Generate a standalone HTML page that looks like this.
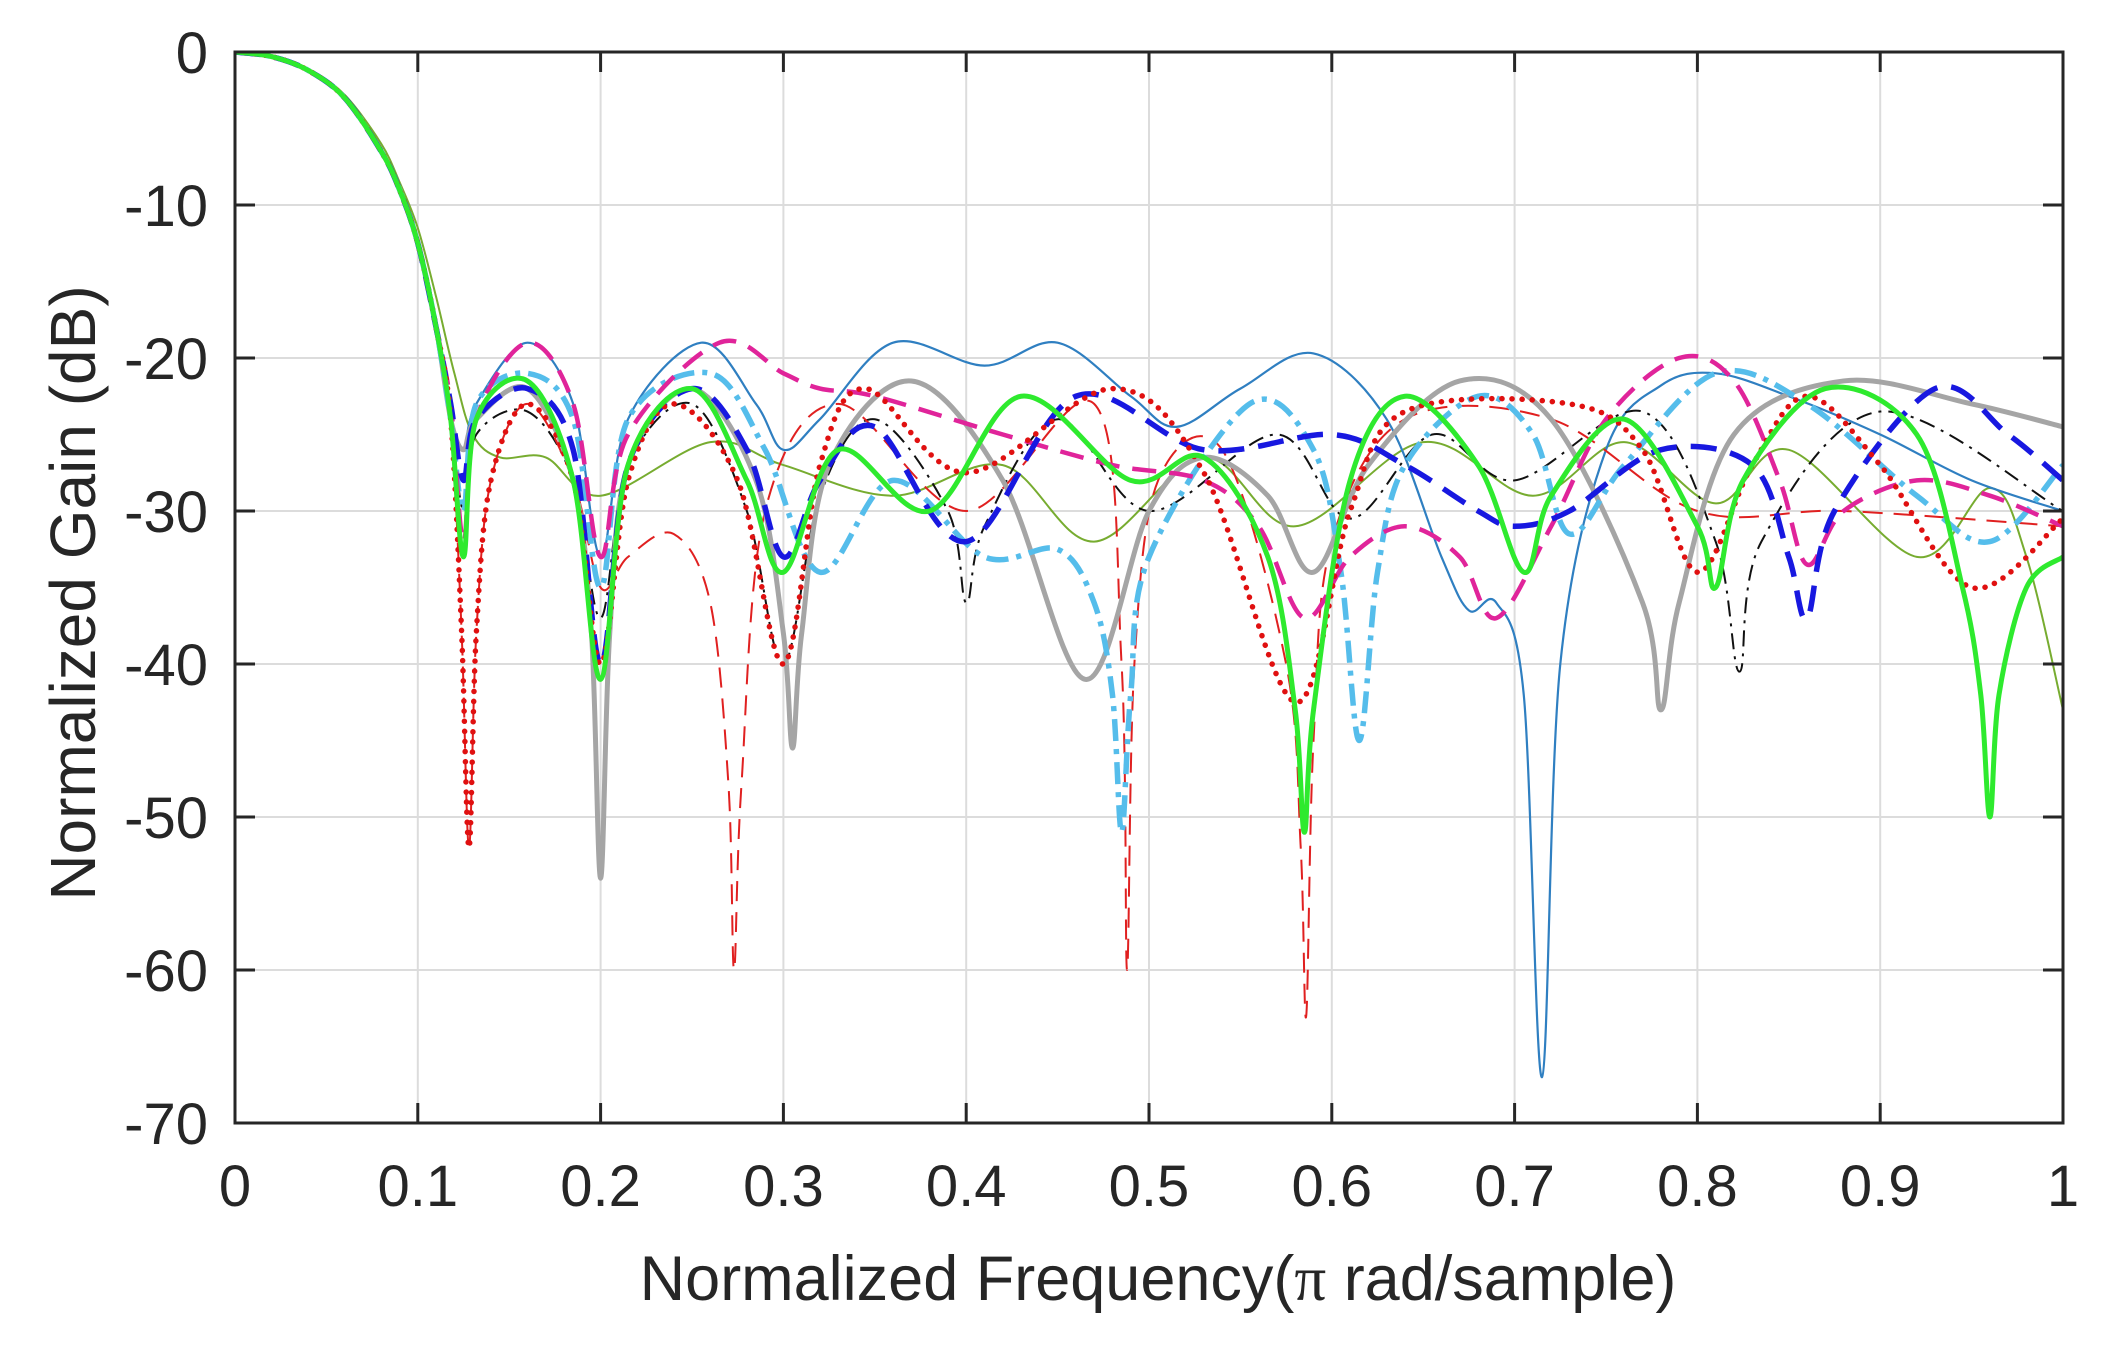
<!DOCTYPE html>
<html><head><meta charset="utf-8"><style>
html,body{margin:0;padding:0;background:#fff;}
svg{display:block;font-family:"Liberation Sans",Arial,sans-serif;}
</style></head><body>
<svg id="chart" width="2117" height="1346" viewBox="0 0 2117 1346" xmlns="http://www.w3.org/2000/svg">
<defs><clipPath id="clip"><rect x="235" y="52" width="1828" height="1071"/></clipPath></defs>
<g id="grid"></g>
<g id="series" clip-path="url(#clip)"></g>
<rect x="235" y="52" width="1828" height="1071" fill="none" stroke="#262626" stroke-width="3"/>
<g id="ticks"></g>
<text x="1158" y="1300" font-size="63" text-anchor="middle" fill="#262626">Normalized Frequency(<tspan font-family="Liberation Serif,serif">π</tspan> rad/sample)</text>
<text transform="translate(95,593) rotate(-90)" font-size="64" text-anchor="middle" fill="#262626">Normalized Gain (dB)</text>
</svg>
<script>
const xTicks=[0,0.1,0.2,0.3,0.4,0.5,0.6,0.7,0.8,0.9,1];
const xTickLabels=["0","0.1","0.2","0.3","0.4","0.5","0.6","0.7","0.8","0.9","1"];
const yTicks=[0,-10,-20,-30,-40,-50,-60,-70];
const yTickLabels=["0","-10","-20","-30","-40","-50","-60","-70"];
const mainX=[0,0.02,0.04,0.06,0.08,0.09,0.10,0.11];
const mainY=[0,-0.3,-1.2,-3,-6.5,-9,-12.5,-18];
const s1x=[0.118,0.125,0.132,0.16,0.185,0.2,0.215,0.255,0.285,0.30,0.32,0.36,0.41,0.45,0.49,0.515,0.55,0.59,0.63,0.66,0.675,0.69,0.705,0.715,0.725,0.75,0.78,0.81,0.85,0.9,0.95,1];
const s1y=[-24,-26,-23,-19,-23,-33,-24,-19,-23,-26,-24,-19,-20.5,-19,-22.5,-24.5,-22,-19.7,-24,-33,-36.5,-36,-42,-67,-40,-26,-21.8,-21,-22.5,-25,-28,-30];
const s2x=[0.118,0.125,0.132,0.16,0.185,0.2,0.215,0.265,0.3,0.32,0.35,0.42,0.48,0.53,0.56,0.585,0.61,0.64,0.67,0.69,0.72,0.75,0.79,0.82,0.845,0.86,0.88,0.92,0.96,1];
const s2y=[-23,-32,-24,-19,-23,-33,-25,-19,-21,-22,-22.5,-25,-27,-28,-31,-37,-33,-31,-33,-37,-31,-24,-20,-21.5,-28,-33.5,-30,-28,-29,-31];
const s3x=[0.118,0.125,0.132,0.16,0.185,0.2,0.215,0.26,0.29,0.32,0.36,0.41,0.45,0.47,0.48,0.485,0.49,0.5,0.555,0.59,0.605,0.615,0.625,0.64,0.68,0.71,0.73,0.76,0.81,0.86,0.92,0.96,1];
const s3y=[-24,-30,-23,-21,-24,-35,-24,-21,-26,-34,-28,-33,-32.5,-36,-42,-51,-42,-33,-23,-26,-34,-45,-34,-27,-22.5,-25,-31.5,-27,-21,-23,-29,-32,-27];
const s4x=[0.118,0.125,0.132,0.16,0.185,0.2,0.215,0.25,0.28,0.3,0.32,0.35,0.4,0.46,0.53,0.6,0.64,0.68,0.7,0.73,0.78,0.83,0.85,0.86,0.875,0.93,0.97,1];
const s4y=[-23,-28,-24,-22,-26,-40,-27,-22,-26,-33,-28,-24.5,-32,-22.5,-26,-25,-27,-30,-31,-30,-26,-27,-33,-37,-30,-22,-25,-28];
const s5x=[0.118,0.125,0.132,0.16,0.185,0.195,0.2,0.205,0.215,0.25,0.285,0.3,0.305,0.31,0.325,0.37,0.42,0.465,0.5,0.53,0.565,0.59,0.62,0.67,0.72,0.77,0.78,0.79,0.82,0.88,0.95,1];
const s5y=[-24,-26,-24,-22,-28,-38,-54,-38,-27,-22,-28,-38,-45.5,-38,-27,-21.5,-28,-41,-30,-26.5,-29,-34,-27,-21.5,-24,-36,-43,-36,-25,-21.5,-23,-24.5];
const s6x=[0.118,0.125,0.132,0.16,0.185,0.2,0.215,0.25,0.28,0.3,0.33,0.38,0.43,0.49,0.53,0.565,0.58,0.585,0.59,0.61,0.64,0.68,0.705,0.72,0.76,0.8,0.81,0.825,0.87,0.92,0.945,0.955,0.96,0.965,0.98,1];
const s6y=[-24,-33,-24,-21.5,-28,-41,-27,-22,-28,-34,-26,-30,-22.5,-28,-26.5,-33,-43,-51,-43,-28,-22.5,-27,-34,-29,-24,-31,-35,-28,-22,-25,-35,-42,-50,-42,-35,-33];
const s7x=[0.118,0.124,0.128,0.132,0.14,0.16,0.185,0.2,0.215,0.24,0.275,0.3,0.32,0.345,0.4,0.48,0.53,0.58,0.61,0.64,0.73,0.77,0.8,0.83,0.86,0.9,0.95,1];
const s7y=[-24,-38,-52,-38,-28,-23,-28,-40,-28,-23,-28,-40,-27,-22,-27.5,-22,-27.5,-42.5,-30,-23.5,-23,-26,-34,-27,-22.5,-27,-35,-30.5];
const s8x=[0.118,0.124,0.128,0.132,0.14,0.16,0.185,0.2,0.215,0.24,0.26,0.27,0.273,0.277,0.29,0.33,0.4,0.47,0.485,0.488,0.492,0.505,0.54,0.575,0.583,0.586,0.59,0.6,0.64,0.72,0.8,0.88,1];
const s8y=[-24,-38,-52,-38,-28,-23,-28,-35,-33,-31.5,-36,-48,-60,-48,-30,-23,-30,-23,-40,-60,-40,-28,-26,-40,-52,-63,-45,-32,-24,-24,-30,-30,-31];
const s9x=[0.118,0.125,0.132,0.16,0.185,0.2,0.215,0.25,0.28,0.3,0.32,0.35,0.39,0.4,0.41,0.45,0.5,0.57,0.61,0.655,0.7,0.77,0.81,0.823,0.835,0.9,1];
const s9y=[-24,-30,-25,-23.5,-28,-37,-27,-23,-30,-40,-29,-24,-30,-36,-31,-24,-30,-25,-30.5,-25,-28,-23.5,-32,-40.5,-32,-23.5,-30];
const s10x=[0,0.02,0.04,0.06,0.08,0.09,0.1,0.11,0.12,0.13,0.145,0.17,0.2,0.26,0.3,0.36,0.42,0.47,0.53,0.58,0.65,0.71,0.76,0.81,0.85,0.92,0.96,0.98,1];
const s10y=[0,-0.3,-1.1,-2.8,-6,-8.5,-11.5,-16,-21,-25,-26.5,-26.5,-29,-25.5,-27,-29,-27,-32,-26.5,-31,-25.5,-29,-25.5,-29.5,-26,-33,-28.5,-33,-43];

const L=235,R=2063,T=52,B=1123;
const sx=v=>L+v*(R-L);
const sy=v=>T+(-v/70)*(B-T);
const NS="http://www.w3.org/2000/svg";
const grid=document.getElementById('grid'),ticks=document.getElementById('ticks'),series=document.getElementById('series');
function mk(tag,attrs,parent){const e=document.createElementNS(NS,tag);for(const k in attrs)e.setAttribute(k,attrs[k]);parent.appendChild(e);return e;}
xTicks.forEach((t,i)=>{
  const g=mk('line',{x1:sx(t),x2:sx(t),y1:T,y2:B,stroke:'#dcdcdc','stroke-width':2},grid);
  
  
  const a=mk('line',{x1:sx(t),x2:sx(t),y1:B,y2:B-20,stroke:'#262626','stroke-width':3},ticks);
  
  
  const b=mk('line',{x1:sx(t),x2:sx(t),y1:T,y2:T+20,stroke:'#262626','stroke-width':3},ticks);
  
  
  const tx=mk('text',{x:sx(t),y:1206,'font-size':58,'text-anchor':'middle',fill:'#262626'},ticks);
  tx.textContent=xTickLabels[i];
  
  
});
yTicks.forEach((t,i)=>{
  const g=mk('line',{x1:L,x2:R,y1:sy(t),y2:sy(t),stroke:'#dcdcdc','stroke-width':2},grid);
  
  
  const a=mk('line',{x1:L,x2:L+20,y1:sy(t),y2:sy(t),stroke:'#262626','stroke-width':3},ticks);
  
  
  const b=mk('line',{x1:R,x2:R-20,y1:sy(t),y2:sy(t),stroke:'#262626','stroke-width':3},ticks);
  
  
  const tx=mk('text',{x:208,y:sy(t)+21,'font-size':58,'text-anchor':'end',fill:'#262626'},ticks);
  tx.textContent=yTickLabels[i];
  
  
});
function pathFor(xs,ys){
  const p=xs.map((x,i)=>[sx(x),sy(ys[i])]);
  let d=`M${p[0][0]},${p[0][1]}`;
  for(let i=0;i<p.length-1;i++){
    const p0=p[Math.max(0,i-1)],p1=p[i],p2=p[i+1],p3=p[Math.min(p.length-1,i+2)];
    const c1=[p1[0]+(p2[0]-p0[0])/6,p1[1]+(p2[1]-p0[1])/6];
    const c2=[p2[0]-(p3[0]-p1[0])/6,p2[1]-(p3[1]-p1[1])/6];
    d+=` C${c1[0]},${c1[1]} ${c2[0]},${c2[1]} ${p2[0]},${p2[1]}`;
  }
  return d;
}
function draw(xs,ys,color,w,dash,name,withMain){
  const X=withMain?mainX.concat(xs):xs, Y=withMain?mainY.concat(ys):ys;
  const el=mk('path',{d:pathFor(X,Y),fill:'none',stroke:color,'stroke-width':w,'stroke-linejoin':'round','stroke-linecap':dash==='dot'?'round':'butt'},series);
  if(dash==='dot')el.setAttribute('stroke-dasharray','0.1 10');
  else if(dash)el.setAttribute('stroke-dasharray',dash);
  
  
}
draw(s10x,s10y,'#77AC30',2,null,'series-olive-solid',false);
draw(s1x,s1y,'#2F7FC1',2.2,null,'series-steelblue-solid',true);
draw(s9x,s9y,'#111111',2,'16 7 3 7','series-black-dashdot',true);
draw(s8x,s8y,'#E02020',2,'20 11','series-red-dashed',true);
draw(s5x,s5y,'#A5A5A5',5,null,'series-gray-solid',true);
draw(s3x,s3y,'#55BDEB',5.5,'22 8 5 8','series-lightblue-dashdot',true);
draw(s2x,s2y,'#E0249A',4.5,'24 13','series-magenta-dashed',true);
draw(s4x,s4y,'#1818E0',5.5,'26 14','series-blue-dashed',true);
draw(s7x,s7y,'#E01010',5.5,'dot','series-red-dotted',true);
draw(s6x,s6y,'#2EEA2E',5,null,'series-green-solid',true);
</script>
</body></html>
